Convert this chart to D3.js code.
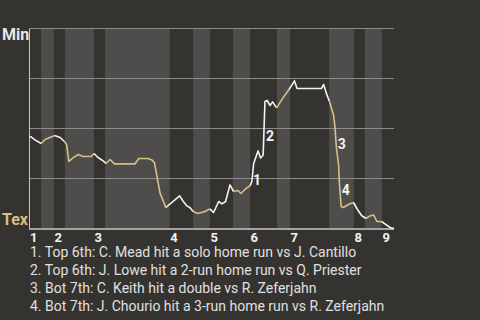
<!DOCTYPE html>
<html>
<head>
<meta charset="utf-8">
<script src="https://cdn.jsdelivr.net/npm/d3@7/dist/d3.min.js"></script>
<style>
body { margin: 0; background: #35332f; }
svg { display: block; font-family: Roboto, sans-serif; }
</style>
</head>
<body>
<div id="vis"></div>
<script>
// game progress (0-100) where each half inning starts
var halfStarts = [0, 3.2, 6.7, 9.7, 17.7, 20.7, 38.5, 44.9, 49.5, 55.8, 60.5, 67.9, 71.5, 82.2, 89.0, 92.0, 96.7];
var gameEnd = 100;
var innings = [1, 2, 3, 4, 5, 6, 7, 8, 9];

// Min win probability (%) by half inning: [progress, wp]
var wpByHalf = [
	[[0, 46], [0.4, 45.8], [1.5, 44.3], [3.2, 42.5]],
	[[4.3, 44.5], [5.6, 45.5], [6.9, 46.5]],
	[[8.4, 45.5], [9.6, 43.5]],
	[[10.2, 41.8], [10.8, 33.5], [11.9, 35.3], [13.4, 37], [14.7, 36], [16.9, 36], [17.7, 37.5]],
	[[18.8, 35.5], [20.2, 33.8], [21.0, 32.5]],
	[[22.1, 34.5], [23.3, 32.3], [28.9, 32.3], [30.0, 35], [32.5, 35], [33.6, 34.3], [34.3, 32.8], [35.8, 17.8], [37.4, 10.5]],
	[[41.2, 16.3], [42.2, 13.5], [43.2, 11.3], [44.0, 10.5], [44.9, 8.5]],
	[[46.2, 7.5], [48.1, 8.5], [49.5, 9.8]],
	[[50.5, 8], [51.9, 13.5], [52.8, 12.3], [53.8, 13.5], [55.0, 21.8], [56.0, 18.5]],
	[[57.2, 19], [58.0, 17.5], [59.4, 20], [60.5, 21.3]],
	[[61.0, 23.5], [61.5, 32.5], [62.7, 38.8], [63.4, 35.3], [64.1, 36.8], [64.6, 63.5], [65.2, 64], [66.0, 61.5], [66.7, 63.3], [67.8, 60.3]],
	[[69.0, 63.8], [70.1, 66.8], [71.2, 69.5]],
	[[72.7, 73.8], [73.4, 70], [80.1, 70], [80.7, 72], [81.6, 66.8], [82.3, 63.5]],
	[[83.4, 56.8], [83.8, 50.8], [84.2, 40.3], [84.8, 31.8], [85.0, 23.3], [85.5, 11], [86.1, 10.5], [87.5, 12], [88.9, 13]],
	[[89.8, 10], [91.1, 6.5], [92.3, 5]],
	[[93.4, 6.3], [94.4, 6.8], [95.3, 3.5], [96.6, 3.5]],
	[[97.9, 1.8], [98.9, 0.5], [100, 0]]
];

var gridValues = [25, 50, 75, 100];

var eventTexts = [
	"Top 6th: C. Mead hit a solo home run vs J. Cantillo",
	"Top 6th: J. Lowe hit a 2-run home run vs Q. Priester",
	"Bot 7th: C. Keith hit a double vs R. Zeferjahn",
	"Bot 7th: J. Chourio hit a 3-run home run vs R. Zeferjahn"
];
// where the numbered markers sit: [progress, wp]
var eventMarks = [[62.4, 24.3], [66.0, 46.3], [85.7, 42.3], [86.8, 19.3]];

var width = 480,
	height = 320;

var bg = "#35332f",
	bandLight = "#4e4d4b",
	awayColor = "#f2f2f2",
	homeColor = "#d9bf87";

var x = d3.scaleLinear().domain([0, gameEnd]).range([29.5, 394]),
	y = d3.scaleLinear().domain([0, 100]).range([228.5, 28.5]);

var svg = d3.select("#vis")
	.append("svg")
	.attr("width", width)
	.attr("height", height);

svg.append("rect")
	.attr("width", width)
	.attr("height", height)
	.attr("fill", bg);

// half inning bands
svg.append("g")
	.selectAll("rect")
	.data(halfStarts)
	.enter()
	.append("rect")
	.attr("x", function(d) { return x(d); })
	.attr("y", y(100))
	.attr("width", function(d, i) {
		var next = i < halfStarts.length - 1 ? halfStarts[i + 1] : gameEnd;
		return x(next) - x(d);
	})
	.attr("height", y(0) - y(100))
	.attr("fill", function(d, i) { return i % 2 ? bandLight : bg; });

// grid lines
svg.append("g")
	.selectAll("line")
	.data(gridValues)
	.enter()
	.append("line")
	.attr("x1", x(0))
	.attr("x2", x(gameEnd))
	.attr("y1", function(d) { return y(d); })
	.attr("y2", function(d) { return y(d); })
	.attr("stroke", "#8c8b89")
	.attr("stroke-width", 1);

// axes
svg.append("line")
	.attr("x1", x(0)).attr("x2", x(0))
	.attr("y1", y(100)).attr("y2", y(0) + 1)
	.attr("stroke", "#c8c8c8")
	.attr("stroke-width", 1);

svg.append("line")
	.attr("x1", x(0)).attr("x2", x(gameEnd))
	.attr("y1", y(0) + 0.5).attr("y2", y(0) + 0.5)
	.attr("stroke", "#c8c8c8")
	.attr("stroke-width", 1.5);

// win probability line, one piece per half inning
var line = d3.line()
	.x(function(d) { return x(d[0]); })
	.y(function(d) { return y(d[1]); });

svg.append("g")
	.selectAll("path")
	.data(wpByHalf.map(function(pts, i) {
		if (i === 0) return pts;
		var prev = wpByHalf[i - 1];
		return [prev[prev.length - 1]].concat(pts);
	}))
	.enter()
	.append("path")
	.attr("d", line)
	.attr("fill", "none")
	.attr("stroke", function(d, i) { return i % 2 ? homeColor : awayColor; })
	.attr("stroke-width", 1.6)
	.attr("stroke-linejoin", "round");

// event markers
svg.append("g")
	.selectAll("text")
	.data(eventMarks)
	.enter()
	.append("text")
	.attr("x", function(d) { return x(d[0]); })
	.attr("y", function(d) { return y(d[1]); })
	.attr("dy", "0.36em")
	.attr("text-anchor", "middle")
	.attr("fill", "#f2f2f2")
	.attr("font-size", 14)
	.attr("font-weight", "bold")
	.text(function(d, i) { return i + 1; });

// team labels
svg.append("text")
	.attr("x", 2)
	.attr("y", 40)
	.attr("fill", "#e6e6e6")
	.attr("font-size", 16)
	.attr("font-weight", "bold")
	.text("Min");

svg.append("text")
	.attr("x", 2)
	.attr("y", 225)
	.attr("fill", homeColor)
	.attr("font-size", 16)
	.attr("font-weight", "bold")
	.text("Tex");

// inning numbers at the start of each top half
svg.append("g")
	.selectAll("text")
	.data(innings)
	.enter()
	.append("text")
	.attr("x", function(d) { return x(halfStarts[(d - 1) * 2]) + 0.5; })
	.attr("y", 242)
	.attr("fill", "#f2f2f2")
	.attr("font-size", 13)
	.attr("font-weight", "bold")
	.text(function(d) { return d; });

// event list
svg.append("g")
	.selectAll("text")
	.data(eventTexts)
	.enter()
	.append("text")
	.attr("x", 30)
	.attr("y", function(d, i) { return 257 + i * 18; })
	.attr("fill", "#e0e0e0")
	.attr("font-size", 14)
	.text(function(d, i) { return (i + 1) + ". " + d; });
</script>
</body>
</html>
